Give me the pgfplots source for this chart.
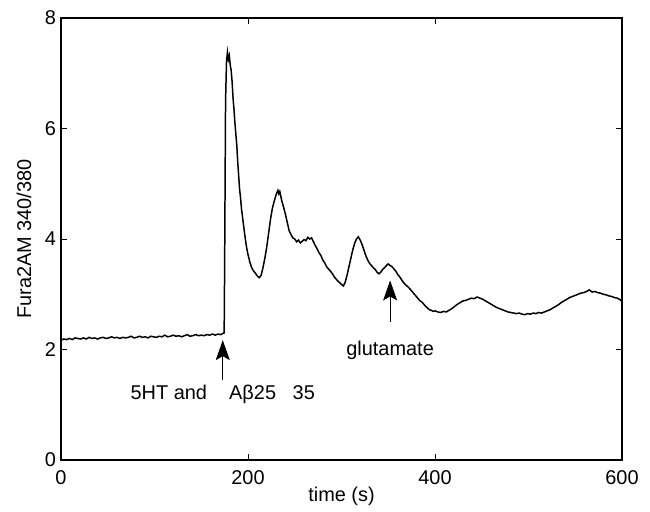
\documentclass[border=0pt]{standalone}
\usepackage{pgfplots}
\pgfplotsset{compat=1.18}
\usepackage{fontspec}
\setmainfont{Liberation Sans}
\usetikzlibrary{arrows.meta}
\pgfplotstableread{
x y
0 2.17
3 2.19
6 2.18
9 2.20
12 2.18
15 2.21
18 2.20
21 2.19
24 2.21
27 2.19
30 2.22
33 2.20
36 2.21
39 2.19
42 2.21
45 2.22
48 2.20
51 2.21
54 2.23
57 2.21
60 2.22
63 2.20
66 2.22
69 2.21
72 2.22
75 2.24
78 2.21
81 2.22
84 2.24
87 2.22
90 2.23
93 2.21
96 2.24
99 2.23
102 2.22
105 2.24
108 2.23
111 2.26
114 2.23
117 2.24
120 2.26
123 2.24
126 2.25
129 2.23
132 2.25
135 2.27
138 2.24
141 2.25
144 2.27
147 2.25
150 2.26
153 2.25
156 2.27
159 2.26
162 2.28
165 2.26
168 2.28
171 2.27
173 2.29
174.5 2.30
175 3.5
175.5 5.0
176 6.5
177 7.20
178 7.38
179 7.25
180 7.32
181 7.15
182 7.05
183 6.85
184 6.55
185 6.35
186 6.10
187 5.90
188 5.70
189 5.40
190 5.15
191 4.90
192 4.75
193 4.55
194 4.42
195 4.28
196 4.15
197 4.02
198 3.90
199 3.80
200 3.72
202 3.58
204 3.48
206 3.42
208 3.38
210 3.33
212 3.30
214 3.34
216 3.48
218 3.65
220 3.85
222 4.10
224 4.35
226 4.55
228 4.68
230 4.80
232 4.88
233 4.82
234 4.86
236 4.70
238 4.58
240 4.45
242 4.30
244 4.15
246 4.08
248 4.02
250 4.00
252 3.95
254 3.98
256 3.93
258 3.96
260 3.99
262 3.97
264 4.03
266 4.00
268 4.02
270 3.95
272 3.88
274 3.82
276 3.75
278 3.70
280 3.62
282 3.57
284 3.50
286 3.46
288 3.42
290 3.38
292 3.32
294 3.28
296 3.24
298 3.21
300 3.18
302 3.15
304 3.22
306 3.35
308 3.50
310 3.65
312 3.80
314 3.92
316 4.00
318 4.04
320 3.98
322 3.90
324 3.80
326 3.70
328 3.62
330 3.56
332 3.52
334 3.48
336 3.45
338 3.40
340 3.37
342 3.40
344 3.45
346 3.48
348 3.52
350 3.55
352 3.52
354 3.50
356 3.46
358 3.42
360 3.36
362 3.32
364 3.27
366 3.22
368 3.18
370 3.15
372 3.12
374 3.08
376 3.04
378 3.00
380 2.96
382 2.92
384 2.88
386 2.86
388 2.82
390 2.78
392 2.75
394 2.72
396 2.71
398 2.69
400 2.70
403 2.68
406 2.67
409 2.69
412 2.68
415 2.71
418 2.74
421 2.78
424 2.82
427 2.85
430 2.88
433 2.89
436 2.91
439 2.93
442 2.92
445 2.95
448 2.93
451 2.91
454 2.88
457 2.85
460 2.82
463 2.79
466 2.76
469 2.74
472 2.72
475 2.70
478 2.68
481 2.67
484 2.66
487 2.65
490 2.66
493 2.64
496 2.63
499 2.65
502 2.64
505 2.66
508 2.65
511 2.67
514 2.66
517 2.68
520 2.70
523 2.72
526 2.75
529 2.78
532 2.81
535 2.85
538 2.88
541 2.91
544 2.94
547 2.96
550 2.98
553 3.00
556 3.02
559 3.03
562 3.05
565 3.08
568 3.04
571 3.05
574 3.03
577 3.02
580 3.00
583 2.99
586 2.97
589 2.96
592 2.94
595 2.93
598 2.90
600 2.87
}\datatable
\begin{document}
\fontsize{10}{12}\selectfont
\begin{tikzpicture}
\begin{axis}[
  scale only axis,
  width=280.5bp, height=221bp,
  xmin=0, xmax=600, ymin=0, ymax=8,
  xtick={0,200,400,600}, ytick={0,2,4,6,8},
  tick align=inside,
  major tick length=3bp,
  axis line style={line width=0.6pt},
  tick style={line width=0.5pt, black},
  /pgf/number format/assume math mode=true,
  ticklabel style={font=\fontsize{10}{12}\selectfont},
  xticklabel style={yshift=-2bp},
  yticklabel style={xshift=1bp},
  label style={font=\fontsize{10}{12}\selectfont},
  xlabel={time (s)},
  ylabel={Fura2AM 340/380},
  xlabel style={at={(axis description cs:0.5,0)}, anchor=center, yshift=-18bp},
  ylabel style={at={(axis description cs:0,0.5)}, anchor=center, yshift=18.5bp},
]
\addplot[black, line width=0.75pt, no marks] table[x=x,y=y] {\datatable};
\draw[-{Stealth[length=10bp,width=7bp,inset=2bp]}, line width=0.5pt] (axis cs:173,1.45) -- (axis cs:173,2.17);
\node[anchor=center] at (axis cs:173,1.18) {5HT and \ \ \ Aβ25 \ \ 35};
\draw[-{Stealth[length=10bp,width=7bp,inset=2bp]}, line width=0.5pt] (axis cs:352,2.50) -- (axis cs:352,3.25);
\node[anchor=center] at (axis cs:352,1.98) {glutamate};
\end{axis}
\pgfresetboundingbox
\path[use as bounding box] ([xshift=-30.5bp,yshift=-25.5bp]current axis.south west) rectangle ([xshift=14bp,yshift=9bp]current axis.north east);
\end{tikzpicture}
\end{document}
